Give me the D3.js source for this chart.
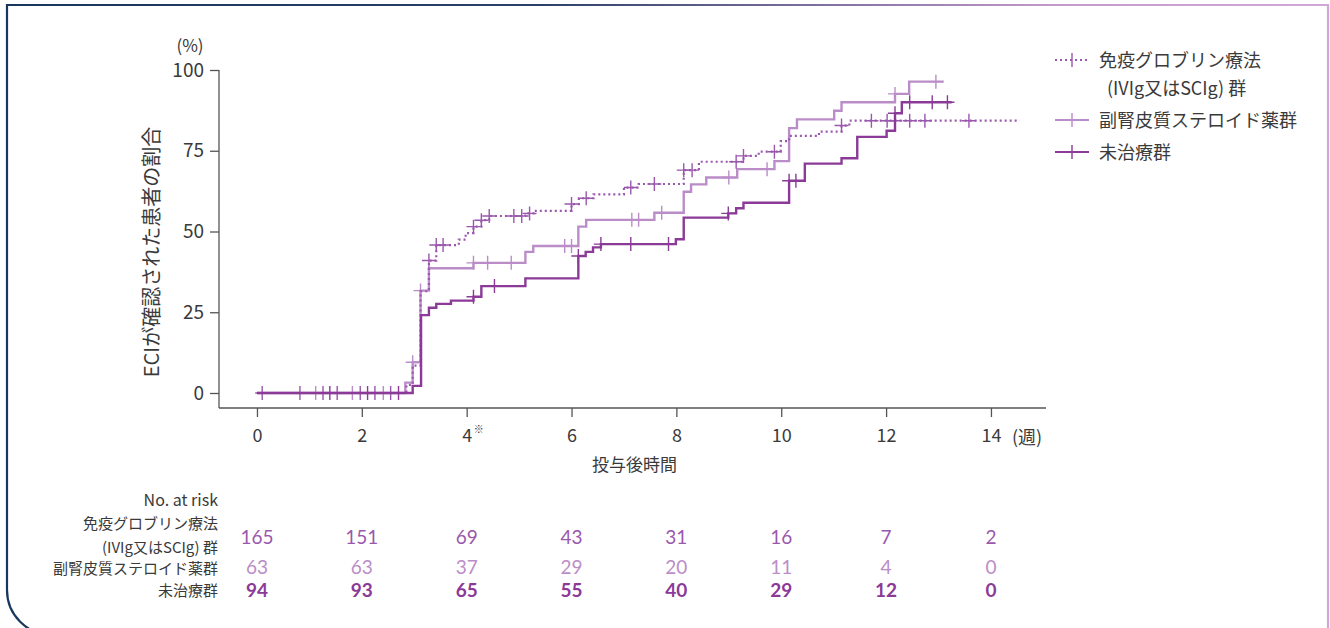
<!DOCTYPE html>
<html>
<head>
<meta charset="utf-8">
<script src="https://cdn.jsdelivr.net/npm/d3@7"></script>
<style>
  html, body { margin: 0; padding: 0; background: #fff; }
  svg { display: block; }
  text { font-family: "Noto Sans CJK JP", "Noto Sans", sans-serif; fill: #3a3a3a; }
</style>
</head>
<body>
<svg id="chart" width="1330" height="628"></svg>
<script>
// Cumulative incidence (%) step data, weeks after dosing
const ivigTimes = [0, 2.85, 2.97, 3.12, 3.28, 3.42, 3.85, 3.98, 4.13, 4.28, 4.43, 5.12, 5.29, 6.0, 6.14, 6.42, 7.0, 7.28, 8.14, 8.43, 9.28, 9.57, 9.99, 10.15, 10.72, 11.15, 11.3, 14.55];
const ivigPct   = [0, 2.5, 8.5, 31.5, 41, 45.8, 47.5, 49.5, 51.5, 53.5, 54.8, 55.6, 56.4, 58.5, 60.3, 61.5, 63.6, 64.7, 69, 71.6, 73.4, 74.7, 78, 79.6, 80.9, 82.8, 84.3, 84.3];
const ivigCensor = [0.1, 0.82, 1.26, 1.53, 1.97, 2.25, 2.55, 3.28, 3.42, 3.55, 4.13, 4.28, 4.43, 4.9, 5.05, 5.2, 6.0, 6.28, 7.13, 7.58, 8.14, 8.3, 9.14, 9.28, 9.87, 11.15, 11.72, 12.02, 12.17, 12.45, 12.74, 13.58];

const steroidTimes = [0, 2.83, 2.97, 3.12, 3.28, 4.13, 5.12, 5.27, 6.13, 6.28, 7.58, 8.14, 8.28, 8.57, 9.16, 9.87, 10.15, 10.3, 11.01, 11.15, 12.17, 12.44, 13.1];
const steroidPct   = [0, 3.2, 9.5, 31.7, 38.6, 40.3, 43.7, 45.5, 51.5, 53.6, 55.8, 62.3, 64.6, 66.7, 69.3, 71.8, 82, 84.7, 87.4, 90, 92.6, 96.4, 96.4];
const steroidCensor = [1.12, 1.82, 2.41, 2.97, 3.12, 4.13, 4.4, 4.85, 5.87, 6.0, 7.15, 7.28, 7.72, 9.0, 9.73, 12.17, 12.95];

const untreatedTimes = [0, 2.97, 3.13, 3.28, 3.42, 3.7, 4.13, 4.28, 5.12, 6.13, 6.27, 6.41, 6.56, 7.99, 8.14, 8.99, 9.14, 9.28, 10.15, 10.45, 11.15, 11.45, 12.01, 12.17, 12.3, 13.25];
const untreatedPct   = [0, 2.2, 24.1, 26.4, 27.6, 28.6, 29.8, 33.1, 35.5, 42.4, 43.7, 45.1, 46.1, 47.6, 54.3, 55.6, 57.2, 58.9, 65.7, 71, 72.7, 79.3, 81.2, 86.6, 90, 90];
const untreatedCensor = [1.39, 2.11, 2.7, 4.13, 4.53, 6.13, 6.56, 7.13, 7.85, 8.99, 10.15, 10.28, 12.17, 12.45, 12.88, 13.17];

// Numbers at risk
const riskWeeks = [0, 2, 4, 6, 8, 10, 12, 14];
const riskIvig = [165, 151, 69, 43, 31, 16, 7, 2];
const riskSteroid = [63, 63, 37, 29, 20, 11, 4, 0];
const riskUntreated = [94, 93, 65, 55, 40, 29, 12, 0];

// Axis ticks
const xTicks = [0, 2, 4, 6, 8, 10, 12, 14];
const xTickLabels = ["0", "2", "4", "6", "8", "10", "12", "14"];
const yTicks = [0, 25, 50, 75, 100];

const COL_IVIG = "#9a58ad";
const COL_STER = "#bb8dc8";
const COL_UNTR = "#8b3a98";

const svg = d3.select("#chart");

// Frame with gradient border
const defs = svg.append("defs");
const grad = defs.append("linearGradient").attr("id", "frameGrad")
  .attr("x1", "0%").attr("x2", "100%").attr("y1", "0%").attr("y2", "0%");
grad.append("stop").attr("offset", "0%").attr("stop-color", "#17375e");
grad.append("stop").attr("offset", "40%").attr("stop-color", "#2a4068");
grad.append("stop").attr("offset", "80%").attr("stop-color", "#c79acd");
grad.append("stop").attr("offset", "100%").attr("stop-color", "#d2a6d6");
svg.append("path")
  .attr("d", "M1328,660 L1328,5 L7,5 L7,590 A45,45 0 0 0 52,635 L1290,635")
  .attr("fill", "none")
  .attr("stroke", "url(#frameGrad)")
  .attr("stroke-width", 2.2);

const x = d3.scaleLinear().domain([-0.724, 15.05]).range([219, 1046]);
const y = d3.scaleLinear().domain([0, 100]).range([393, 70]);

// Y axis
const yAxis = d3.axisLeft(y).tickValues(yTicks).tickSize(9).tickPadding(6);
const gy = svg.append("g").attr("transform", "translate(219,0)").call(yAxis);
gy.select(".domain").attr("d", "M0,70V408").attr("stroke", "#555").attr("stroke-width", 1.3);
gy.selectAll(".tick line").attr("stroke", "#555").attr("stroke-width", 1.3);
gy.selectAll(".tick text").style("font-size", "19px").attr("fill", "#3a3a3a").attr("font-family", null);

// X axis
const xAxis = d3.axisBottom(x).tickValues(xTicks).tickSize(9).tickPadding(12)
  .tickFormat((d, i) => xTickLabels[i]);
const gx = svg.append("g").attr("transform", "translate(0,408)").call(xAxis);
gx.select(".domain").attr("d", "M219,0H1046").attr("stroke", "#555").attr("stroke-width", 1.3);
gx.selectAll(".tick line").attr("stroke", "#555").attr("stroke-width", 1.3);
gx.selectAll(".tick text").style("font-size", "18px").attr("fill", "#3a3a3a").attr("font-family", null);

svg.append("text").attr("x", x(4) + 7).attr("y", 433).style("font-size", "10px").text("※");
svg.append("text").attr("x", 1012).attr("y", 444).style("font-size", "18px").text("(週)");
svg.append("text").attr("x", x(7.2)).attr("y", 471).attr("text-anchor", "middle")
  .style("font-size", "17px").text("投与後時間");

svg.append("text").attr("x", 190).attr("y", 52).attr("text-anchor", "middle")
  .style("font-size", "17px").text("(%)");
svg.append("text").attr("transform", "translate(159,252) rotate(-90)")
  .attr("text-anchor", "middle").style("font-size", "20px").text("ECIが確認された患者の割合");

// Curves
const line = d3.line().x(d => x(d[0])).y(d => y(d[1])).curve(d3.curveStepAfter);
function stepValue(times, pct, t) {
  let v = pct[0];
  for (let i = 0; i < times.length; i++) if (times[i] <= t + 1e-9) v = pct[i];
  return v;
}
function drawGroup(times, pct, censor, color, width, dash) {
  const pts = times.map((t, i) => [t, pct[i]]);
  svg.append("path").datum(pts).attr("d", line)
    .attr("fill", "none").attr("stroke", color).attr("stroke-width", width)
    .attr("stroke-dasharray", dash || null);
  const g = svg.append("g");
  censor.forEach(t => {
    const cx = x(t), cy = y(stepValue(times, pct, t));
    g.append("path").attr("d", `M${cx},${cy - 7}V${cy + 7}M${cx - 7},${cy}H${cx + 7}`)
      .attr("stroke", color).attr("stroke-width", 1.4).attr("fill", "none");
  });
}
drawGroup(steroidTimes, steroidPct, steroidCensor, COL_STER, 2.4);
drawGroup(ivigTimes, ivigPct, ivigCensor, COL_IVIG, 2.2, "2,3");
drawGroup(untreatedTimes, untreatedPct, untreatedCensor, COL_UNTR, 2.4);

// Legend
const legend = [
  { color: COL_IVIG, dash: "2,3", y: 60, lines: ["免疫グロブリン療法"] },
  { color: COL_STER, dash: null, y: 120, lines: ["副腎皮質ステロイド薬群"] },
  { color: COL_UNTR, dash: null, y: 152, lines: ["未治療群"] }
];
legend.forEach(l => {
  svg.append("path").attr("d", `M1055,${l.y}H1089`).attr("stroke", l.color)
    .attr("stroke-width", 2.2).attr("stroke-dasharray", l.dash);
  svg.append("path").attr("d", `M1072,${l.y - 7}V${l.y + 7}`).attr("stroke", l.color).attr("stroke-width", 1.4);
  svg.append("text").attr("x", 1099).attr("y", l.y + 6.5).style("font-size", "18px").text(l.lines[0]);
});
svg.append("text").attr("x", 1107).attr("y", 94.5).style("font-size", "18px").text("(IVIg又はSCIg) 群");

// Risk table
const labelX = 218;
svg.append("text").attr("x", labelX).attr("y", 506).attr("text-anchor", "end")
  .style("font-size", "16px").attr("fill", "#333").text("No. at risk");
[["免疫グロブリン療法", 529], ["(IVIg又はSCIg) 群", 553], ["副腎皮質ステロイド薬群", 574], ["未治療群", 596]]
  .forEach(([t, yy]) => svg.append("text").attr("x", labelX).attr("y", yy)
    .attr("text-anchor", "end").style("font-size", "15px").attr("fill", "#333").text(t));

function riskRow(vals, yy, color, weight) {
  svg.append("g").selectAll("text").data(vals).join("text")
    .attr("x", (d, i) => x(riskWeeks[i])).attr("y", yy)
    .attr("text-anchor", "middle").style("font-size", "19px")
    .style("font-family", "Lato, 'Noto Sans', sans-serif")
    .style("font-weight", weight).style("fill", color).text(d => d);
}
riskRow(riskIvig, 544, COL_IVIG, 400);
riskRow(riskSteroid, 574, COL_STER, 400);
riskRow(riskUntreated, 597, COL_UNTR, 700);
</script>
</body>
</html>
